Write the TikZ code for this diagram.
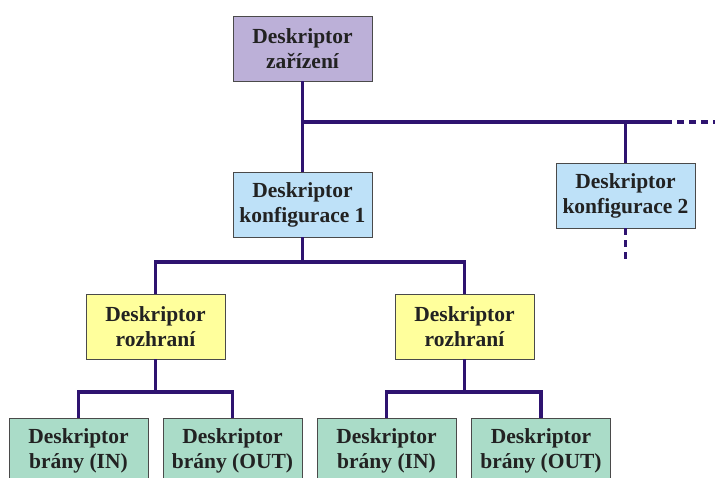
\documentclass[tikz,border=0pt]{standalone}
\usepackage{fontspec}
\setmainfont{Liberation Serif}
\definecolor{devfill}{HTML}{BCB0D8}
\definecolor{cfgfill}{HTML}{BEE1F8}
\definecolor{iffill}{HTML}{FFFF9C}
\definecolor{portfill}{HTML}{AADCC8}
\definecolor{buscol}{HTML}{2E1370}
\definecolor{edgecol}{HTML}{4A4A4A}
\definecolor{txtcol}{HTML}{222222}
\tikzset{
  desc/.style={draw=edgecol, line width=0.9pt, minimum width=139pt, minimum height=65pt,
    inner sep=0pt, align=center, text=txtcol,
    font=\fontsize{21.5}{25}\selectfont\bfseries},
  bus/.style={draw=buscol, line width=3.5pt, line join=miter},
  busdash/.style={bus, dash pattern=on 7pt off 5pt},
}
\begin{document}
\begin{tikzpicture}[x=1pt, y=-1pt]
\useasboundingbox (0,0) rectangle (715,477);
\clip (0,0) rectangle (715,477);

% descriptor boxes
\node[desc, fill=devfill] (dev) at (302.5,48.5) {Deskriptor\\zařízení};
\node[desc, fill=cfgfill] (cfg1) at (302.5,204.5) {Deskriptor\\konfigurace 1};
\node[desc, fill=cfgfill] (cfg2) at (625.5,195.5) {Deskriptor\\konfigurace 2};
\node[desc, fill=iffill] (if1) at (155.5,326.5) {Deskriptor\\rozhraní};
\node[desc, fill=iffill] (if2) at (464.5,326.5) {Deskriptor\\rozhraní};
\node[desc, fill=portfill] (p1) at (78.5,450.5) {Deskriptor\\brány (IN)};
\node[desc, fill=portfill] (p2) at (232.5,450.5) {Deskriptor\\brány (OUT)};
\node[desc, fill=portfill] (p3) at (386.5,450.5) {Deskriptor\\brány (IN)};
\node[desc, fill=portfill] (p4) at (541,450.5) {Deskriptor\\brány (OUT)};

% bus junctions and open ends
\coordinate (busR) at (665,122);
\coordinate (busEnd) at (717,122);
\coordinate (cfgBus) at (302.5,262);
\coordinate (if1Bus) at (155.5,392);
\coordinate (if2Bus) at (464.5,392);
\coordinate (cfg2Tail) at (625.5,262);

% device -> configurations
\draw[bus] (dev.south) -- (cfg1.north);
\draw[bus] (dev.south |- busR) -- (busR);
\draw[busdash] (busR) -- (busEnd);
\draw[bus] (busR -| cfg2.north) -- (cfg2.north);
\draw[busdash] (cfg2.south) -- (cfg2Tail);

% configuration -> interfaces
\draw[bus] (cfg1.south) -- (cfgBus);
\draw[bus] (if1.north) |- (cfgBus) -| (if2.north);

% interfaces -> endpoints
\draw[bus] (if1.south) -- (if1Bus);
\draw[bus] (p1.north) |- (if1Bus) -| (p2.north);
\draw[bus] (if2.south) -- (if2Bus);
\draw[bus] (p3.north) |- (if2Bus) -| (p4.north);
\end{tikzpicture}
\end{document}
